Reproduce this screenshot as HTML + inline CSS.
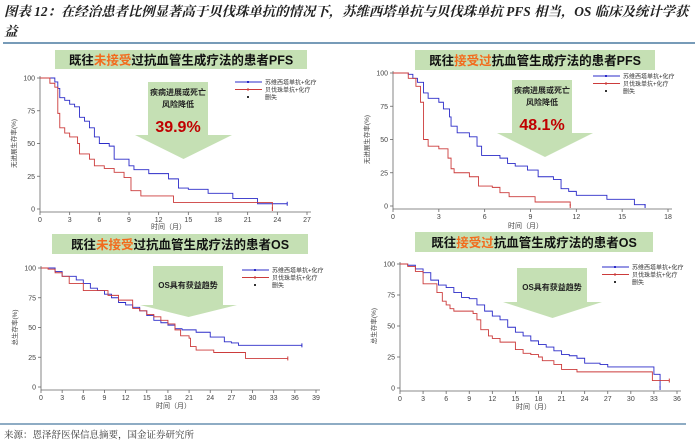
<!DOCTYPE html>
<html><head><meta charset="utf-8">
<style>
body{margin:0;background:#fff;width:700px;height:443px;overflow:hidden;font-family:"Liberation Sans","Noto Sans CJK SC",sans-serif;}
svg{position:absolute;left:0;top:0}
</style></head><body>
<svg id="c" width="700" height="443" viewBox="0 0 700 443">
<g font-family="'Liberation Serif','Noto Serif CJK SC',serif" font-style="italic" font-weight="bold" font-size="13.4" fill="#222">
<text x="4" y="16">图表 12：在经治患者比例显著高于贝伐珠单抗的情况下，苏维西塔单抗与贝伐珠单抗 PFS 相当，OS 临床及统计学获</text>
<text x="4" y="36">益</text>
</g>
<line x1="3" y1="43" x2="695" y2="43" stroke="#4a7aa0" stroke-width="1.5"/>
<line x1="0" y1="424" x2="686" y2="424" stroke="#4a7aa0" stroke-width="1.2"/>
<text x="4" y="438" font-size="9.5" fill="#333" font-family="'Liberation Serif','Noto Serif CJK SC',serif">来源：恩泽舒医保信息摘要，国金证券研究所</text>
<g id="plots"></g>
</svg>
<script>
// ---- data ----
const pfsUntreatedBlueT=[0,0.8,1.5,1.8,2,2.5,3,3.5,4,4.5,5,5.5,6,7,7.5,9,9.5,11,13,14,15,17,19.5,22,25];
const pfsUntreatedBlueS=[100,100,97,92,85,83,80,78,70,67,62,55,50,48,38,33,30,27,23,16,15,12,8,4,4];
const pfsUntreatedRedT=[0,1,1.5,1.8,2,2.5,3,3.8,4,5,5.5,6.5,7.5,8.5,9.2,10.2,13.5,23.5];
const pfsUntreatedRedS=[100,96,93,73,62,58,55,50,42,38,33,31,28,24,14,10,5,0];
const pfsTreatedBlueT=[0,1,1.3,1.6,2,2.3,3,3.3,3.7,3.8,4.2,5,5.5,5.8,7,7.5,8,8.8,9.5,10.5,11,11.5,12,14,15.8,16.5];
const pfsTreatedBlueS=[100,99,96,93,85,81,78,73,67,60,55,52,45,38,36,32,30,27,22,20,13,11,8,5,1,0];
const pfsTreatedRedT=[0,1,1.5,1.8,2,2.3,3,3.6,3.8,4,5,5.6,6.5,7,7.6,9.3,11.6];
const pfsTreatedRedS=[100,96,90,78,50,45,43,36,28,25,22,15,14,10,7,3,0];
const osUntreatedBlueT=[0,1,2,3,5,6,7,8,9,10,11,12,13,14,15,16,17,18,19,20,22,24,26,27,28,37];
const osUntreatedBlueS=[100,100,97,93,90,87,83,81,78,75,71,69,67,64,60,56,54,52,49,48,46,42,38,37,35,35];
const osUntreatedRedT=[0,1,2,3,4,6,9,9.5,11,13,14,15,16,17,18,19,19.8,21,21.2,22,24.5,27,29,35];
const osUntreatedRedS=[100,99,96,93,87,81,81,77,73,66,64,61,59,56,53,48,43,41,34,31,29,29,24,24];
const osTreatedBlueT=[0,1,2,3,4,5,6,7,8,9,10,11,12,13,14,15,16,17,18,19,20,21,22,23,24,26,27,33,33.8];
const osTreatedBlueS=[100,99,96,93,87,83,81,77,73,72,67,62,58,55,49,45,42,38,35,33,30,27,26,24,20,19,17,11,0];
const osTreatedRedT=[0,1,2,3,4.5,4.8,5.5,6,6.5,7,9.5,10,10.5,11.5,12,13,15,16,17,18,18.5,20,21,23,32.8,35];
const osTreatedRedS=[100,98,94,84,84,77,70,67,64,62,60,55,47,42,40,37,31,28,27,25,22,19,15,13,6,6];
const yTicks=[0,25,50,75,100];
const pfsUntreatedXTicks=[0,3,6,9,12,15,18,21,24,27];
const pfsTreatedXTicks=[0,3,6,9,12,15,18];
const osUntreatedXTicks=[0,3,6,9,12,15,18,21,24,27,30,33,36,39];
const osTreatedXTicks=[0,3,6,9,12,15,18,21,24,27,30,33,36];
const legendLabels=["苏维西塔单抗+化疗","贝伐珠单抗+化疗","删失"];

const NS="http://www.w3.org/2000/svg";
const root=document.getElementById('plots');
function mk(tag,attrs,parent){const e=document.createElementNS(NS,tag);for(const k in attrs)e.setAttribute(k,attrs[k]);(parent||root).appendChild(e);return e;}

const panels=[
 {id:'pfs-untreated',x0:40,x1:307,y0:209,y1:78,xmax:27,xt:pfsUntreatedXTicks,b:[pfsUntreatedBlueT,pfsUntreatedBlueS],r:[pfsUntreatedRedT,pfsUntreatedRedS],
  hd:[55,50,252,19],pre:"既往",hl:"未接受",post:"过抗血管生成疗法的患者PFS",ar:[148,208,82,135,135,232,159],txt:["疾病进展或死亡","风险降低"],pct:"39.9%",lg:[235,82],ylab:"无进展生存率(%)",xtY:229},
 {id:'pfs-treated',x0:393,x1:668,y0:206,y1:73,xmax:18,xt:pfsTreatedXTicks,b:[pfsTreatedBlueT,pfsTreatedBlueS],r:[pfsTreatedRedT,pfsTreatedRedS],
  hd:[415,50,240,20],pre:"既往",hl:"接受过",post:"抗血管生成疗法的患者PFS",ar:[512,572,80,133,497,593,157],txt:["疾病进展或死亡","风险降低"],pct:"48.1%",lg:[593,76],ylab:"无进展生存率(%)",xtY:228},
 {id:'os-untreated',x0:41,x1:316,y0:387,y1:268,xmax:39,xt:osUntreatedXTicks,b:[osUntreatedBlueT,osUntreatedBlueS],r:[osUntreatedRedT,osUntreatedRedS],
  hd:[52,234,256,20],pre:"既往",hl:"未接受",post:"过抗血管生成疗法的患者OS",ar:[153,223,266,305,140,237,317],txt:["OS具有获益趋势"],pct:null,lg:[242,270],ylab:"总生存率(%)",xtY:408},
 {id:'os-treated',x0:400,x1:677,y0:388,y1:264,xmax:36,xt:osTreatedXTicks,b:[osTreatedBlueT,osTreatedBlueS],r:[osTreatedRedT,osTreatedRedS],
  hd:[415,232,238,20],pre:"既往",hl:"接受过",post:"抗血管生成疗法的患者OS",ar:[517,587,268,302,503,602,318],txt:["OS具有获益趋势"],pct:null,lg:[602,267],ylab:"总生存率(%)",xtY:409}
];

panels.forEach(p=>{
 const g=mk('g',{});
 
 
 const sx=v=>p.x0+(p.x1-p.x0)*v/p.xmax;
 const sy=v=>p.y0+(p.y1-p.y0)*v/100;
 const h=mk('rect',{x:p.hd[0],y:p.hd[1],width:p.hd[2],height:p.hd[3],fill:'#c5e0b4'},g);
 
 
 const ht=mk('text',{x:p.hd[0]+p.hd[2]/2,y:p.hd[1]+p.hd[3]/2+5,'text-anchor':'middle','font-size':'12.5','font-weight':'bold',fill:'#111'},g);
 
 
 const t1=mk('tspan',{},ht);t1.textContent=p.pre;
 const t2=mk('tspan',{fill:'#f26b1d'},ht);t2.textContent=p.hl;
 const t3=mk('tspan',{},ht);t3.textContent=p.post;
 const a=p.ar;
 const ap=mk('polygon',{points:`${a[0]},${a[2]} ${a[1]},${a[2]} ${a[1]},${a[3]} ${a[5]},${a[3]} ${(a[4]+a[5])/2},${a[6]} ${a[4]},${a[3]} ${a[0]},${a[3]}`,fill:'#c5e0b4'},g);
 
 
 const cx=(a[0]+a[1])/2;
 p.txt.forEach((s,i)=>{const t=mk('text',{x:cx,y:(p.pct?a[2]+13:a[2]+22)+i*12,'text-anchor':'middle','font-size':'8','font-weight':'bold',fill:'#222'},g);t.textContent=s;
  });
 if(p.pct){const t=mk('text',{x:cx,y:a[2]+50,'text-anchor':'middle','font-size':'16','font-weight':'bold',fill:'#c00000'},g);t.textContent=p.pct;
  }
 const ax=mk('path',{d:`M${p.x0},${p.y1-2}V${p.y0+3}H${p.x1+4}`,stroke:'#666',fill:'none','stroke-width':'0.8'},g);
 
 
 yTicks.forEach(v=>{mk('line',{x1:p.x0-3,x2:p.x0,y1:sy(v),y2:sy(v),stroke:'#666','stroke-width':'0.8'},g);
  const t=mk('text',{x:p.x0-5,y:sy(v)+2.5,'text-anchor':'end','font-size':'7',fill:'#444'},g);t.textContent=v;
  });
 p.xt.forEach(v=>{mk('line',{x1:sx(v),x2:sx(v),y1:p.y0+3,y2:p.y0+6,stroke:'#666','stroke-width':'0.8'},g);
  const t=mk('text',{x:sx(v),y:p.y0+13,'text-anchor':'middle','font-size':'7',fill:'#444'},g);t.textContent=v;
  });
 const xl=mk('text',{x:(p.x0+p.x1)/2-5,y:p.xtY,'text-anchor':'middle','font-size':'7',fill:'#444'},g);xl.textContent='时间（月）';
 
 const ym=(p.y0+p.y1)/2, yx=p.x0-24;
 const yl=mk('text',{x:yx,y:ym,'text-anchor':'middle','font-size':'6.5',fill:'#444',transform:`rotate(-90 ${yx} ${ym})`},g);yl.textContent=p.ylab;
 
 [[p.b,'#2b2bc8','blue'],[p.r,'#cc3b3b','red']].forEach(([s,col,nm])=>{
  const T=s[0],S=s[1];let d=`M${sx(T[0])},${sy(S[0])}`;
  for(let i=1;i<T.length;i++){d+=`H${sx(T[i])}V${sy(S[i])}`;}
  const l=mk('path',{d:d,stroke:col,fill:'none','stroke-width':'0.9'},g);
  
  const n=T.length-1;
  const c=mk('line',{x1:sx(T[n]),x2:sx(T[n]),y1:sy(S[n])-2,y2:sy(S[n])+2,stroke:col,'stroke-width':'1'},g);
  
 });
 const lg=p.lg;const cols=['#2b2bc8','#cc3b3b'];
 for(let i=0;i<3;i++){
  const y=lg[1]+i*7.5;
  if(i<2){mk('line',{x1:lg[0],x2:lg[0]+27,y1:y,y2:y,stroke:cols[i],'stroke-width':'1'},g);mk('rect',{x:lg[0]+12,y:y-1,width:2,height:2,fill:cols[i]},g);}
  else mk('rect',{x:lg[0]+12,y:y-1,width:2,height:2,fill:'#333'},g);
  const t=mk('text',{x:lg[0]+30,y:y+2.5,'font-size':'6',fill:'#333'},g);t.textContent=legendLabels[i];
  
 }
});
</script>
</body></html>
